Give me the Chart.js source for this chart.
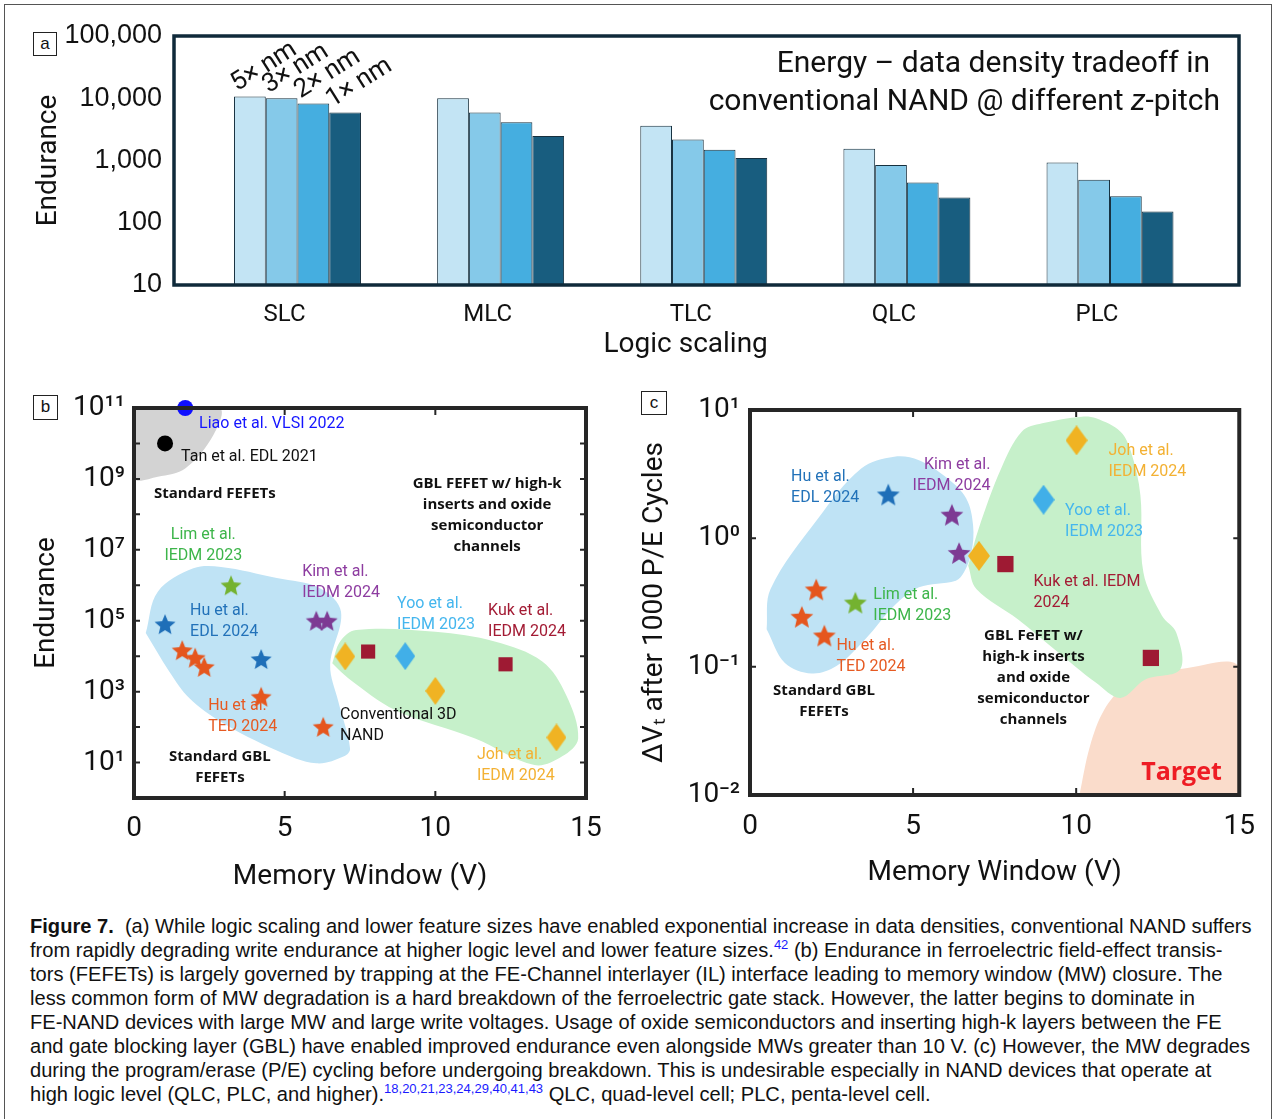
<!DOCTYPE html>
<html>
<head>
<meta charset="utf-8">
<script src="https://cdn.jsdelivr.net/npm/chart.js@4.4.1/dist/chart.umd.min.js"></script>
<style>
  html, body { margin: 0; padding: 0; background: #fff; }
  body { width: 1276px; height: 1119px; position: relative; overflow: hidden; font-family: Roboto, sans-serif; }
  .outer { position: absolute; left: 4px; top: 4px; width: 1266px; height: 1140px; border: 1.5px solid #555; }
  canvas { position: absolute; }
  .tag { position: absolute; border: 1px solid #222; background: #fff; font: 17px "Liberation Sans", Arial, sans-serif; text-align: center; color: #111; }
  .headline { position: absolute; font: 30px Roboto, sans-serif; color: #111; white-space: nowrap; line-height: 34px; }
  .caption { position: absolute; left: 30px; top: 914px; font: 20.1px "Liberation Sans", Arial, sans-serif; line-height: 24px; color: #111; white-space: nowrap; }
  .caption sup { color: #1a1aff; font-size: 13px; vertical-align: 8px; line-height: 0; }
</style>
</head>
<body>
<div class="outer"></div>
<canvas id="chartA" width="1276" height="370" style="left:0;top:0"></canvas>
<canvas id="chartB" width="620" height="520" style="left:0;top:380px"></canvas>
<canvas id="chartC" width="640" height="520" style="left:630px;top:380px"></canvas>

<div class="tag" style="left:33px;top:32px;width:22px;height:22px;line-height:22px">a</div>
<div class="tag" style="left:33px;top:395px;width:23px;height:23px;line-height:22px">b</div>
<div class="tag" style="left:641px;top:391px;width:24px;height:22px;line-height:21px">c</div>

<div class="headline" style="right:66px;top:45px">Energy – data density tradeoff in</div>
<div class="headline" style="right:56px;top:83px">conventional NAND @ different <i>z</i>-pitch</div>

<div class="caption">
<b>Figure 7.</b>&nbsp; (a) While logic scaling and lower feature sizes have enabled exponential increase in data densities, conventional NAND suffers<br>
from rapidly degrading write endurance at higher logic level and lower feature sizes.<sup>42</sup> (b) Endurance in ferroelectric field-effect transis-<br>
tors (FEFETs) is largely governed by trapping at the FE-Channel interlayer (IL) interface leading to memory window (MW) closure. The<br>
less common form of MW degradation is a hard breakdown of the ferroelectric gate stack. However, the latter begins to dominate in<br>
FE-NAND devices with large MW and large write voltages. Usage of oxide semiconductors and inserting high-k layers between the FE<br>
and gate blocking layer (GBL) have enabled improved endurance even alongside MWs greater than 10 V. (c) However, the MW degrades<br>
during the program/erase (P/E) cycling before undergoing breakdown. This is undesirable especially in NAND devices that operate at<br>
high logic level (QLC, PLC, and higher).<sup>18,20,21,23,24,29,40,41,43</sup> QLC, quad-level cell; PLC, penta-level cell.
</div>

<script>
// ---- panel a: endurance vs logic level
const logicLevels = ['SLC', 'MLC', 'TLC', 'QLC', 'PLC'];
const zPitch = ['5× nm', '3× nm', '2× nm', '1× nm'];
const endurance5x = [10700, 10000, 3600, 1540, 925];
const endurance3x = [10000, 5900, 2180, 850, 490];
const endurance2x = [8200, 4100, 1490, 445, 267];
const endurance1x = [5900, 2470, 1100, 254, 151];
const enduranceTicksA = [10, 100, 1000, 10000, 100000];

// ---- panel b: endurance vs memory window
const mwTicks = [0, 5, 10, 15];
const enduranceTicksB = [1e1, 1e3, 1e5, 1e7, 1e9, 1e11];
const liaoMwB = [1.7], liaoEndB = [1e11];
const tanMwB = [1.03], tanEndB = [1e10];
const limMwB = [3.22], limEndB = [1e6];
const huEdlMwB = [1.03, 4.22], huEdlEndB = [8e4, 8300];
const huTedMwB = [1.6, 2.03, 2.33, 4.22, 6.28], huTedEndB = [14800, 9100, 5000, 720, 102];
const kimMwB = [6.05, 6.41], kimEndB = [1e5, 1e5];
const johMwB = [7.01, 10.0, 14.02], johEndB = [9800, 1050, 51];
const kukMwB = [7.77, 12.33], kukEndB = [13500, 5900];
const yooMwB = [9.0], yooEndB = [1e4];
// shaded groups in b
const stdFefetMwB = [0, 2.83, 2.63, 1.71, 0.79, 0, 0];
const stdFefetEndB = [1e11, 1e11, 1.7e10, 2.0e9, 1.15e9, 1.05e9, 1e11];
const stdGblMwB = [0.39, 0.79, 1.97, 2.89, 4.74, 6.17, 6.87, 6.51, 6.78, 7.17, 6.97, 6.05, 4.74, 2.89, 1.84, 1.18, 0.39];
const stdGblEndB = [4.5e4, 6.6e5, 3.0e6, 3.3e6, 1.6e6, 8.3e5, 1.8e5, 5.6e3, 525, 25, 15, 9.5, 22, 140, 650, 3.6e3, 4.5e4];
const highKMwB = [6.58, 6.84, 7.37, 10.0, 11.97, 13.55, 14.34, 14.74, 14.21, 13.29, 11.32, 8.68, 7.11, 6.58];
const highKEndB = [6.3e3, 2.6e4, 5.5e4, 4.9e4, 2.6e4, 7.1e3, 810, 48, 15, 8.5, 48, 300, 2.4e3, 6.3e3];

// ---- panel c: dVt after 1000 P/E cycles vs memory window
const dvTicksC = [0.01, 0.1, 1, 10];
const huEdlMwC = [4.24], huEdlDvC = [2.2];
const kimMwC = [6.19, 6.41], kimDvC = [1.53, 0.77];
const johMwC = [10.01, 7.02], johDvC = [5.8, 0.73];
const yooMwC = [9.0], yooDvC = [2.0];
const kukMwC = [7.83, 12.29], kukDvC = [0.63, 0.117];
const huTedMwC = [2.03, 1.59, 2.28], huTedDvC = [0.40, 0.245, 0.175];
const limMwC = [3.23], limDvC = [0.316];
// shaded groups in c
const stdGblMwC = [0.51, 0.63, 2.08, 3.41, 4.42, 5.18, 6.06, 6.63, 6.84, 6.79, 6.56, 6.31, 5.18, 4.42, 3.54, 2.65, 1.89, 1.07, 0.51];
const stdGblDvC = [0.196, 0.403, 1.42, 3.5, 4.32, 4.06, 2.92, 2.04, 1.26, 0.778, 0.543, 0.468, 0.415, 0.298, 0.164, 0.101, 0.0885, 0.107, 0.196];
const highKMwC = [6.69, 7.01, 7.7, 8.33, 8.96, 10.17, 10.61, 11.36, 11.68, 11.97, 12.06, 12.63, 13.07, 13.19, 12.12, 11.36, 10.61, 9.34, 8.21, 6.94, 6.69];
const highKDvC = [0.612, 1.19, 3.5, 6.78, 7.87, 8.87, 8.61, 6.78, 4.72, 2.16, 0.543, 0.249, 0.184, 0.0953, 0.0794, 0.0571, 0.0748, 0.136, 0.234, 0.403, 0.612];
const targetMwC = [10.1, 10.42, 10.86, 11.49, 12.38, 13.26, 15, 15, 10.1];
const targetDvC = [0.01, 0.0239, 0.0462, 0.0705, 0.0869, 0.0964, 0.098, 0.01, 0.01];

// ---- helpers
const SUP = {'-': '⁻', '0': '⁰', '1': '¹', '2': '²', '3': '³', '4': '⁴', '5': '⁵', '6': '⁶', '7': '⁷', '8': '⁸', '9': '⁹'};
function powLabel(v) {
  const e = String(Math.round(Math.log10(v)));
  return '10' + e.split('').map(c => SUP[c]).join('');
}
function pts(xs, ys) { return xs.map((x, i) => ({x: x, y: ys[i]})); }

function starImg(color, r) {
  const c = document.createElement('canvas');
  c.width = c.height = Math.ceil(r * 2 + 2);
  const g = c.getContext('2d');
  g.translate(c.width / 2, c.height / 2 + r * 0.1);
  g.beginPath();
  for (let i = 0; i < 10; i++) {
    const rad = i % 2 ? r * 0.45 : r;
    const a = -Math.PI / 2 + i * Math.PI / 5;
    g.lineTo(rad * Math.cos(a), rad * Math.sin(a));
  }
  g.closePath();
  g.fillStyle = color;
  g.fill();
  return c;
}
function diamondImg(color, w, h) {
  const c = document.createElement('canvas');
  c.width = w; c.height = h;
  const g = c.getContext('2d');
  g.beginPath();
  g.moveTo(w / 2, 0); g.lineTo(w, h / 2); g.lineTo(w / 2, h); g.lineTo(0, h / 2);
  g.closePath();
  g.fillStyle = color;
  g.fill();
  return c;
}

function marker(label, xs, ys, style, color, radius) {
  return {
    label: label, data: pts(xs, ys), showLine: false, clip: false, order: 0,
    pointStyle: style, pointRadius: radius, pointBackgroundColor: color,
    pointBorderWidth: 0, pointBorderColor: color
  };
}
function region(xs, ys, color) {
  return {
    data: pts(xs, ys), showLine: true, fill: 'shape', backgroundColor: color,
    borderColor: 'transparent', borderWidth: 0, pointRadius: 0, tension: 0.35, order: 5
  };
}

// frame round the plot area, with small inward tick marks
function framePlugin(color, width, xMarks, yMarks) {
  return {
    id: 'frame',
    afterDatasetsDraw(chart) {
      const {ctx, chartArea: a, scales} = chart;
      ctx.save();
      ctx.strokeStyle = color;
      ctx.lineWidth = 2;
      ctx.beginPath();
      (xMarks || []).forEach(v => {
        const px = scales.x.getPixelForValue(v);
        ctx.moveTo(px, a.bottom); ctx.lineTo(px, a.bottom - 7);
        ctx.moveTo(px, a.top); ctx.lineTo(px, a.top + 7);
      });
      (yMarks || []).forEach(v => {
        const py = scales.y.getPixelForValue(v);
        ctx.moveTo(a.left, py); ctx.lineTo(a.left + 6, py);
        ctx.moveTo(a.right, py); ctx.lineTo(a.right - 6, py);
      });
      ctx.stroke();
      ctx.lineWidth = width;
      ctx.strokeRect(a.left, a.top, a.right - a.left, a.bottom - a.top);
      ctx.restore();
    }
  };
}

// text notes placed in data coordinates
function notesPlugin(items) {
  return {
    id: 'notes',
    afterDatasetsDraw(chart) {
      const {ctx, scales} = chart;
      items.forEach(n => {
        ctx.save();
        ctx.font = n.font || '16px Roboto, sans-serif';
        ctx.fillStyle = n.color;
        ctx.textAlign = n.align || 'left';
        ctx.textBaseline = 'middle';
        const px = scales.x.getPixelForValue(n.x);
        const py = scales.y.getPixelForValue(n.y);
        n.lines.forEach((t, k) => ctx.fillText(t, px, py + k * (n.gap || 21)));
        ctx.restore();
      });
    }
  };
}

Chart.defaults.font.family = 'Roboto, sans-serif';
Chart.defaults.color = '#111';
Chart.defaults.animation = false;

// ---- chart a
const barColors = ['#c3e4f4', '#85c9e9', '#45aee0', '#185d7f'];
const barSeries = [endurance5x, endurance3x, endurance2x, endurance1x];

const barTags = {
  id: 'barTags',
  afterDatasetsDraw(chart) {
    const ctx = chart.ctx;
    ctx.save();
    ctx.font = '26px Roboto, sans-serif';
    ctx.fillStyle = '#111';
    ctx.textBaseline = 'alphabetic';
    chart.data.datasets.forEach((ds, i) => {
      const bar = chart.getDatasetMeta(i).data[0];
      ctx.save();
      ctx.translate(bar.x - bar.width / 2 + 3, bar.y - 5);
      ctx.rotate(-32 * Math.PI / 180);
      ctx.fillText(ds.label, 0, 0);
      ctx.restore();
    });
    ctx.restore();
  }
};

new Chart(document.getElementById('chartA'), {
  type: 'bar',
  data: {
    datasets: barSeries.map((vals, i) => ({
      label: zPitch[i],
      data: vals.map((v, j) => ({x: j + 1, y: v})),
      backgroundColor: barColors[i],
      borderColor: '#16303f',
      borderWidth: 1,
      categoryPercentage: 0.625,
      barPercentage: 1
    }))
  },
  options: {
    responsive: false,
    layout: {padding: {top: 36, right: 37, left: 0, bottom: 0}},
    plugins: {legend: {display: false}, tooltip: {enabled: false}},
    scales: {
      x: {
        type: 'linear', min: 0.392, max: 5.635, offset: false,
        grid: {display: false, drawTicks: false, offset: false},
        border: {display: false},
        afterBuildTicks: s => { s.ticks = logicLevels.map((c, i) => ({value: i + 1})); },
        ticks: {
          font: {size: 24}, padding: 16, labelOffset: -13, autoSkip: false, maxRotation: 0,
          callback: v => logicLevels[Math.round(v) - 1]
        },
        title: {display: true, text: 'Logic scaling      ', font: {size: 28}, padding: {top: 0, bottom: 8}},
        afterFit: s => { s.height = 85; }
      },
      y: {
        type: 'logarithmic', min: 10, max: 100000,
        grid: {display: false, drawTicks: false},
        border: {display: false},
        afterBuildTicks: s => { s.ticks = enduranceTicksA.map(v => ({value: v})); },
        ticks: {
          font: {size: 27, family: '"Liberation Sans", Arial, sans-serif'}, padding: 12, autoSkip: false,
          callback: v => Number(v).toLocaleString('en-US')
        },
        title: {display: true, text: 'Endurance', font: {size: 28}, padding: {top: 32, bottom: 0}},
        afterFit: s => { s.width = 174; }
      }
    }
  },
  plugins: [framePlugin('#0f2a3a', 3.5), barTags]
});

// ---- chart b
const cLiao = '#1010ff', cHuEdl = '#1f6fb8', cHuTed = '#e5561e', cLim = '#74b230', cKim = '#7d3a93',
      cJoh = '#f0b323', cYoo = '#41afe8', cKuk = '#9e1a33';

const notesB = [
  {lines: ['Liao et al. VLSI 2022'], x: 2.16, y: 3.5e10, color: '#1414ff'},
  {lines: ['Tan et al. EDL 2021'], x: 1.56, y: 4.2e9, color: '#111'},
  {lines: ['Standard FEFETs'], x: 0.66, y: 3.8e8, color: '#111', font: '700 15px "Open Sans", sans-serif'},
  {lines: ['GBL FEFET w/ high-k', 'inserts and oxide', 'semiconductor', 'channels'], x: 11.72, y: 7.2e8, color: '#111', align: 'center', font: '700 15px "Open Sans", sans-serif'},
  {lines: ['Lim et al.', 'IEDM 2023'], x: 2.3, y: 2.6e7, color: '#3db54a', align: 'center'},
  {lines: ['Kim et al.', 'IEDM 2024'], x: 5.58, y: 2.4e6, color: '#8d3ca0'},
  {lines: ['Hu et al.', 'EDL 2024'], x: 1.86, y: 1.9e5, color: '#2272b9'},
  {lines: ['Yoo et al.', 'IEDM 2023'], x: 8.73, y: 3.0e5, color: '#44b6ee'},
  {lines: ['Kuk et al.', 'IEDM 2024'], x: 11.75, y: 1.9e5, color: '#a31b34'},
  {lines: ['Hu et al.', 'TED 2024'], x: 2.46, y: 400, color: '#e65a22'},
  {lines: ['Conventional 3D', 'NAND'], x: 6.84, y: 220, color: '#111'},
  {lines: ['Standard GBL', 'FEFETs'], x: 2.85, y: 15, color: '#111', align: 'center', font: '700 15px "Open Sans", sans-serif'},
  {lines: ['Joh et al.', 'IEDM 2024'], x: 11.38, y: 16, color: '#f3b133'}
];

new Chart(document.getElementById('chartB'), {
  type: 'scatter',
  data: {
    datasets: [
      marker('Liao et al. VLSI 2022', liaoMwB, liaoEndB, 'circle', cLiao, 8),
      marker('Tan et al. EDL 2021', tanMwB, tanEndB, 'circle', '#000', 8),
      marker('Lim et al. IEDM 2023', limMwB, limEndB, starImg(cLim, 11), cLim, 10),
      marker('Hu et al. EDL 2024', huEdlMwB, huEdlEndB, starImg(cHuEdl, 11), cHuEdl, 10),
      marker('Hu et al. TED 2024', huTedMwB, huTedEndB, starImg(cHuTed, 11), cHuTed, 10),
      marker('Kim et al. IEDM 2024', kimMwB, kimEndB, starImg(cKim, 11), cKim, 10),
      marker('Joh et al. IEDM 2024', johMwB, johEndB, diamondImg(cJoh, 20, 28), cJoh, 10),
      marker('Kuk et al. IEDM 2024', kukMwB, kukEndB, 'rect', cKuk, 10),
      marker('Yoo et al. IEDM 2023', yooMwB, yooEndB, diamondImg(cYoo, 20, 28), cYoo, 10),
      region(stdFefetMwB, stdFefetEndB, '#d3d3d3'),
      region(stdGblMwB, stdGblEndB, '#bfe3f5'),
      region(highKMwB, highKEndB, '#c6f0ca')
    ]
  },
  options: {
    responsive: false,
    layout: {padding: {top: 28, right: 34, left: 0, bottom: 0}},
    plugins: {legend: {display: false}, tooltip: {enabled: false}},
    scales: {
      x: {
        type: 'linear', min: 0, max: 15,
        grid: {display: false, drawTicks: false},
        border: {display: false},
        afterBuildTicks: s => { s.ticks = mwTicks.map(v => ({value: v})); },
        ticks: {font: {size: 28}, padding: 14, maxRotation: 0},
        title: {display: true, text: 'Memory Window (V)', font: {size: 28}, padding: {top: 0, bottom: 6}},
        afterFit: s => { s.height = 102; }
      },
      y: {
        type: 'logarithmic', min: 1, max: 1e11,
        grid: {display: false, drawTicks: false},
        border: {display: false},
        afterBuildTicks: s => { s.ticks = enduranceTicksB.map(v => ({value: v})); },
        ticks: {font: {size: 28}, padding: 9, autoSkip: false, callback: v => powLabel(v)},
        title: {display: true, text: 'Endurance', font: {size: 28}, padding: {top: 30, bottom: 0}},
        afterFit: s => { s.width = 134; }
      }
    }
  },
  plugins: [framePlugin('#262626', 4, [5, 10], [1e1, 1e2, 1e3, 1e4, 1e5, 1e6, 1e7, 1e8, 1e9, 1e10]), notesPlugin(notesB)]
});

// ---- chart c
const notesC = [
  {lines: ['Hu et al.', 'EDL 2024'], x: 1.26, y: 3.0, color: '#2272b9'},
  {lines: ['Kim et al.', 'IEDM 2024'], x: 7.37, y: 3.7, color: '#8d3ca0', align: 'right'},
  {lines: ['Joh et al.', 'IEDM 2024'], x: 10.99, y: 4.8, color: '#f3b133'},
  {lines: ['Yoo et al.', 'IEDM 2023'], x: 9.66, y: 1.63, color: '#44b6ee'},
  {lines: ['Kuk et al. IEDM', '2024'], x: 8.69, y: 0.46, color: '#a31b34'},
  {lines: ['Lim et al.', 'IEDM 2023'], x: 3.78, y: 0.363, color: '#3db54a'},
  {lines: ['Hu et al.', 'TED 2024'], x: 2.65, y: 0.145, color: '#e65a22'},
  {lines: ['GBL FeFET w/', 'high-k inserts', 'and oxide', 'semiconductor', 'channels'], x: 8.69, y: 0.174, color: '#111', align: 'center', font: '700 15px "Open Sans", sans-serif'},
  {lines: ['Standard GBL', 'FEFETs'], x: 2.27, y: 0.0646, color: '#111', align: 'center', font: '700 15px "Open Sans", sans-serif'},
  {lines: ['Target'], x: 13.23, y: 0.0148, color: '#ee1c24', align: 'center', font: '700 25px "Open Sans", sans-serif'}
];

new Chart(document.getElementById('chartC'), {
  type: 'scatter',
  data: {
    datasets: [
      marker('Hu et al. EDL 2024', huEdlMwC, huEdlDvC, starImg(cHuEdl, 12), cHuEdl, 10),
      marker('Kim et al. IEDM 2024', kimMwC, kimDvC, starImg(cKim, 12), cKim, 10),
      marker('Joh et al. IEDM 2024', johMwC, johDvC, diamondImg(cJoh, 22, 30), cJoh, 10),
      marker('Yoo et al. IEDM 2023', yooMwC, yooDvC, diamondImg(cYoo, 22, 30), cYoo, 10),
      marker('Kuk et al. IEDM 2024', kukMwC, kukDvC, 'rect', cKuk, 11.5),
      marker('Hu et al. TED 2024', huTedMwC, huTedDvC, starImg(cHuTed, 12), cHuTed, 10),
      marker('Lim et al. IEDM 2023', limMwC, limDvC, starImg(cLim, 12), cLim, 10),
      region(stdGblMwC, stdGblDvC, '#bfe3f5'),
      region(highKMwC, highKDvC, '#c6f0ca'),
      region(targetMwC, targetDvC, '#fadccb')
    ]
  },
  options: {
    responsive: false,
    layout: {padding: {top: 30, right: 29, left: 0, bottom: 0}},
    plugins: {legend: {display: false}, tooltip: {enabled: false}},
    scales: {
      x: {
        type: 'linear', min: 0, max: 15,
        grid: {display: false, drawTicks: false},
        border: {display: false},
        afterBuildTicks: s => { s.ticks = mwTicks.map(v => ({value: v})); },
        ticks: {font: {size: 28}, padding: 15, maxRotation: 0},
        title: {display: true, text: 'Memory Window (V)', font: {size: 28}, padding: {top: 0, bottom: 10}},
        afterFit: s => { s.height = 105; }
      },
      y: {
        type: 'logarithmic', min: 0.01, max: 10,
        grid: {display: false, drawTicks: false},
        border: {display: false},
        afterBuildTicks: s => { s.ticks = dvTicksC.map(v => ({value: v})); },
        ticks: {font: {size: 28}, padding: 10, autoSkip: false, callback: v => powLabel(v)},
        title: {display: true, text: 'ΔVₜ after 1000 P/E Cycles', font: {size: 28}, padding: {top: 8, bottom: 0}},
        afterFit: s => { s.width = 120; }
      }
    }
  },
  plugins: [framePlugin('#262626', 4, [5, 10], [0.1, 1]), notesPlugin(notesC)]
});
</script>
</body>
</html>
